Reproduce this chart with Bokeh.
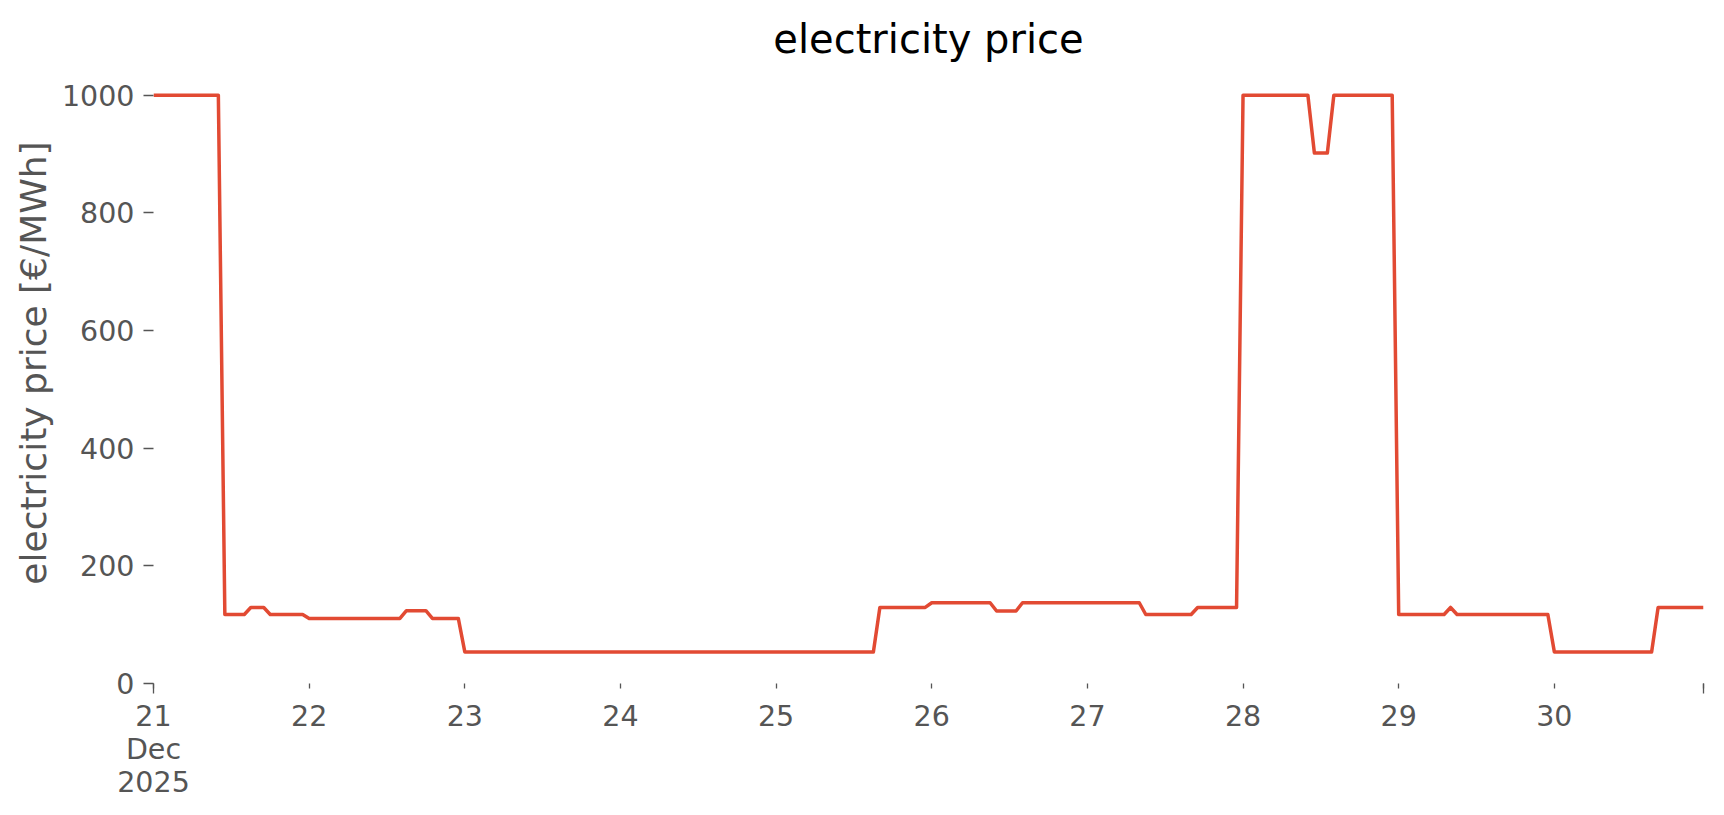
import pandas as pd
from bokeh.plotting import figure
from bokeh.models import Range1d, FixedTicker
from bokeh.embed import file_html
from bokeh.resources import INLINE

# hourly electricity price [€/MWh], one list per day (hours 0..23)
dec21 = [1000, 1000, 1000, 1000, 1000, 1000, 1000, 1000, 1000, 1000, 1000,
         117.4, 117.4, 117.4, 117.4, 129.1, 129.1, 129.1,
         117.4, 117.4, 117.4, 117.4, 117.4, 117.4]
dec22 = [110.6, 110.6, 110.6, 110.6, 110.6, 110.6, 110.6, 110.6, 110.6, 110.6,
         110.6, 110.6, 110.6, 110.6, 110.6, 123.7, 123.7, 123.7, 123.7,
         110.6, 110.6, 110.6, 110.6, 110.6]
dec23 = [53.7, 53.7, 53.7, 53.7, 53.7, 53.7, 53.7, 53.7, 53.7, 53.7, 53.7, 53.7,
         53.7, 53.7, 53.7, 53.7, 53.7, 53.7, 53.7, 53.7, 53.7, 53.7, 53.7, 53.7]
dec24 = [53.7, 53.7, 53.7, 53.7, 53.7, 53.7, 53.7, 53.7, 53.7, 53.7, 53.7, 53.7,
         53.7, 53.7, 53.7, 53.7, 53.7, 53.7, 53.7, 53.7, 53.7, 53.7, 53.7, 53.7]
dec25 = [53.7, 53.7, 53.7, 53.7, 53.7, 53.7, 53.7, 53.7, 53.7, 53.7, 53.7, 53.7,
         53.7, 53.7, 53.7, 53.7, 129.3, 129.3, 129.3, 129.3, 129.3, 129.3, 129.3, 129.3]
dec26 = [137.3, 137.3, 137.3, 137.3, 137.3, 137.3, 137.3, 137.3, 137.3, 137.3,
         123.2, 123.2, 123.2, 123.2,
         137.3, 137.3, 137.3, 137.3, 137.3, 137.3, 137.3, 137.3, 137.3, 137.3]
dec27 = [137.3, 137.3, 137.3, 137.3, 137.3, 137.3, 137.3, 137.3, 137.3,
         117.3, 117.3, 117.3, 117.3, 117.3, 117.3, 117.3, 117.3,
         129.3, 129.3, 129.3, 129.3, 129.3, 129.3, 129.3]
dec28 = [1000, 1000, 1000, 1000, 1000, 1000, 1000, 1000, 1000, 1000, 1000,
         902, 902, 902,
         1000, 1000, 1000, 1000, 1000, 1000, 1000, 1000, 1000, 1000]
dec29 = [117.3, 117.3, 117.3, 117.3, 117.3, 117.3, 117.3, 117.3, 129.3,
         117.3, 117.3, 117.3, 117.3, 117.3, 117.3, 117.3, 117.3, 117.3, 117.3,
         117.3, 117.3, 117.3, 117.3, 117.3]
dec30 = [53.7, 53.7, 53.7, 53.7, 53.7, 53.7, 53.7, 53.7, 53.7, 53.7, 53.7, 53.7,
         53.7, 53.7, 53.7, 53.7, 129.3, 129.3, 129.3, 129.3, 129.3, 129.3, 129.3, 129.3]

x_tick_labels = ["21\nDec\n2025", "22", "23", "24", "25", "26", "27", "28", "29", "30"]
y_ticks = [0, 200, 400, 600, 800, 1000]

prices = dec21 + dec22 + dec23 + dec24 + dec25 + dec26 + dec27 + dec28 + dec29 + dec30
start = pd.Timestamp("2025-12-21 00:00")
times = pd.date_range(start, periods=len(prices), freq="h")


def ms(ts):
    return float(ts.value // 10**6)


day_ticks = [ms(start + pd.Timedelta(days=i)) for i in range(len(x_tick_labels))]
end_tick = ms(times[-1])

FONT = "DejaVu Sans"
GREY = "#555555"

p = figure(width=1716, height=812, x_axis_type="datetime",
           x_range=Range1d(times[0], times[-1]), y_range=Range1d(0, 1089.8),
           output_backend="svg", toolbar_location=None, title="electricity price",
           min_border_left=153, min_border_right=13, min_border_top=42,
           min_border_bottom=129)

p.line(times, prices, line_color="#E24A33", line_width=3.5, line_join="round")

p.background_fill_color = "white"
p.border_fill_color = "white"
p.outline_line_color = None
p.grid.visible = False

p.title.text_font = FONT
p.title.text_font_size = "40px"
p.title.text_font_style = "normal"
p.title.text_color = "black"
p.title.align = "center"
p.title.standoff = -39

for ax in (p.xaxis[0], p.yaxis[0]):
    ax.axis_line_color = None
    ax.major_tick_line_color = GREY
    ax.minor_tick_line_color = GREY
    ax.major_tick_line_width = 1.3
    ax.minor_tick_line_width = 1.3
    ax.major_tick_in = 0
    ax.minor_tick_in = 0
    ax.major_label_text_font = FONT
    ax.major_label_text_font_size = "28.5px"
    ax.major_label_text_color = GREY

xa = p.xaxis[0]
xa.ticker = FixedTicker(ticks=day_ticks + [end_tick], minor_ticks=[day_ticks[0], end_tick])
overrides = {t: lab for t, lab in zip(day_ticks, x_tick_labels)}
overrides[end_tick] = ""
xa.major_label_overrides = overrides
xa.major_tick_out = 5
xa.minor_tick_out = 10
xa.major_label_standoff = 6
xa.major_label_text_line_height = 1.0

ya = p.yaxis[0]
ya.ticker = FixedTicker(ticks=y_ticks, minor_ticks=[])
ya.major_tick_out = 10
ya.minor_tick_out = 0
ya.major_label_standoff = 9
ya.axis_label = "electricity price [€/MWh]"
ya.axis_label_text_font = FONT
ya.axis_label_text_font_size = "36px"
ya.axis_label_text_font_style = "normal"
ya.axis_label_text_color = GREY
ya.axis_label_standoff = 5

open("out.html", "w").write(file_html(p, INLINE))
